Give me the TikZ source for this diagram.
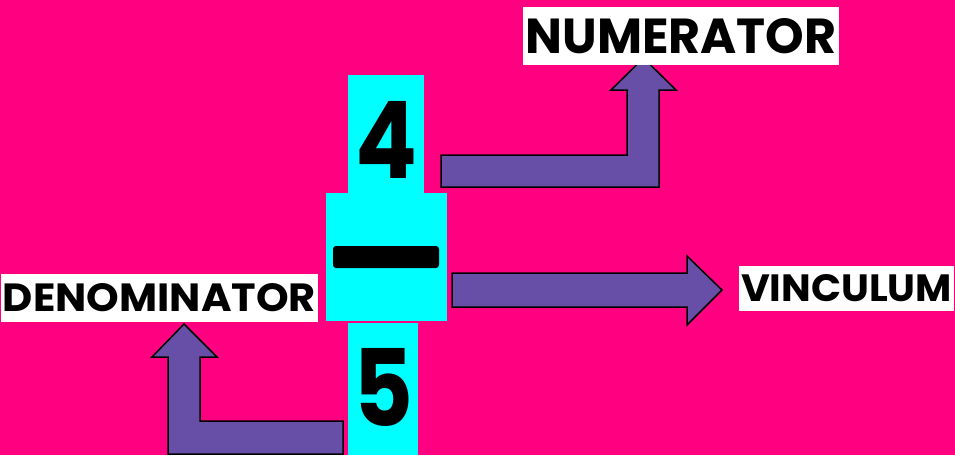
\documentclass[tikz,border=0pt]{standalone}
\usepackage{fontspec}
\setmainfont{Poppins}
\definecolor{bgmag}{RGB}{255,0,128}
\definecolor{aqua}{RGB}{0,255,255}
\definecolor{arrowpurple}{RGB}{103,78,167}
\tikzset{
  blockarrow/.style={fill=arrowpurple,draw=black,line width=1.5pt,line join=miter},
  labelbox/.style={fill=white,inner sep=0pt,font=\bfseries},
  cyanbox/.style={fill=aqua,draw=none},
  digit/.style={inner sep=0pt,font=\bfseries,text=black}
}
\begin{document}
\begin{tikzpicture}[x=1pt,y=-1pt]
\fill[bgmag] (0,0) rectangle (955,455);
\useasboundingbox (0,0) rectangle (955,455);
% cyan columns
\fill[aqua] (348,75) rectangle (424,193);
\fill[aqua] (326,193) rectangle (447,321);
\fill[aqua] (348,323) rectangle (418,455);
% digits and bar
\node[digit] (four) at (386,139.5) {\resizebox{62pt}{77pt}{4}};
\node[digit] (five) at (383,387) {\resizebox{60pt}{78pt}{5}};
\fill[black,rounded corners=3pt] (333,246) rectangle (439,268);
\coordinate (bar) at (386,257);
% arrows
\draw[blockarrow] (441,155) -- (627,155) -- (627,90) -- (611,90) -- (643.5,58) -- (676,90) -- (659,90) -- (659,187) -- (441,187) -- cycle;
\draw[blockarrow] (452,273) -- (687,273) -- (687,256) -- (722,290) -- (687,325) -- (687,307) -- (452,307) -- cycle;
\draw[blockarrow] (343,421) -- (200,421) -- (200,357) -- (217,357) -- (184,324) -- (152,357) -- (168,357) -- (168,454) -- (343,454) -- cycle;
% labels
\node[labelbox,minimum width=316pt,minimum height=58pt] (num) at (681,36) {\resizebox{311pt}{35pt}{NUMERATOR}};
\node[labelbox,minimum width=215pt,minimum height=45pt] (vin) at (846.5,288.5) {\resizebox{211pt}{27pt}{VINCULUM}};
\node[labelbox,minimum width=317pt,minimum height=48pt] (den) at (159.5,298) {\resizebox{313pt}{28pt}{DENOMINATOR}};
\end{tikzpicture}
\end{document}
